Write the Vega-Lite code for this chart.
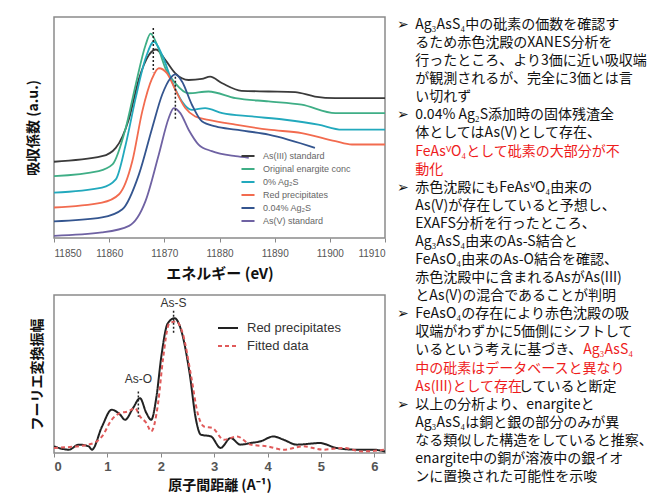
{
  "$schema": "https://vega.github.io/schema/vega-lite/v6.json",
  "background": "white",
  "padding": {"left": 25, "top": 16, "right": 0, "bottom": 0},
  "datasets": {
    "xanes": [
      {"sample": "As(III) standard", "E": 11850, "A": 34.5},
      {"sample": "As(III) standard", "E": 11858.7, "A": 37},
      {"sample": "As(III) standard", "E": 11861.2, "A": 40.8},
      {"sample": "As(III) standard", "E": 11863.6, "A": 54},
      {"sample": "As(III) standard", "E": 11865.4, "A": 72},
      {"sample": "As(III) standard", "E": 11867.2, "A": 82.8},
      {"sample": "As(III) standard", "E": 11868.5, "A": 85.3},
      {"sample": "As(III) standard", "E": 11870.2, "A": 80.5},
      {"sample": "As(III) standard", "E": 11872, "A": 74.5},
      {"sample": "As(III) standard", "E": 11874.4, "A": 71.5},
      {"sample": "As(III) standard", "E": 11876.8, "A": 72},
      {"sample": "As(III) standard", "E": 11878.3, "A": 73},
      {"sample": "As(III) standard", "E": 11880.5, "A": 70},
      {"sample": "As(III) standard", "E": 11884, "A": 66.6},
      {"sample": "As(III) standard", "E": 11888.9, "A": 66.3},
      {"sample": "As(III) standard", "E": 11893.7, "A": 66},
      {"sample": "As(III) standard", "E": 11897.3, "A": 64},
      {"sample": "As(III) standard", "E": 11901, "A": 63.3},
      {"sample": "As(III) standard", "E": 11910, "A": 63.3},
      {"sample": "Original enargite conc", "E": 11850, "A": 28},
      {"sample": "Original enargite conc", "E": 11858.1, "A": 30.3},
      {"sample": "Original enargite conc", "E": 11860.6, "A": 33.3},
      {"sample": "Original enargite conc", "E": 11863, "A": 49.8},
      {"sample": "Original enargite conc", "E": 11864.8, "A": 69.3},
      {"sample": "Original enargite conc", "E": 11866.6, "A": 87.3},
      {"sample": "Original enargite conc", "E": 11867.5, "A": 92.5},
      {"sample": "Original enargite conc", "E": 11868.7, "A": 87.3},
      {"sample": "Original enargite conc", "E": 11870.2, "A": 76.8},
      {"sample": "Original enargite conc", "E": 11872, "A": 70},
      {"sample": "Original enargite conc", "E": 11874.4, "A": 65.5},
      {"sample": "Original enargite conc", "E": 11878, "A": 66.3},
      {"sample": "Original enargite conc", "E": 11882.9, "A": 63.3},
      {"sample": "Original enargite conc", "E": 11888.9, "A": 61.8},
      {"sample": "Original enargite conc", "E": 11894.9, "A": 60.3},
      {"sample": "Original enargite conc", "E": 11901, "A": 56.5},
      {"sample": "Original enargite conc", "E": 11910, "A": 56.5},
      {"sample": "0% Ag₂S", "E": 11850, "A": 20.5},
      {"sample": "0% Ag₂S", "E": 11858.7, "A": 22.8},
      {"sample": "0% Ag₂S", "E": 11861.2, "A": 26.5},
      {"sample": "0% Ag₂S", "E": 11863, "A": 42.3},
      {"sample": "0% Ag₂S", "E": 11864.8, "A": 63.3},
      {"sample": "0% Ag₂S", "E": 11866.6, "A": 81.3},
      {"sample": "0% Ag₂S", "E": 11868.1, "A": 88.8},
      {"sample": "0% Ag₂S", "E": 11869.6, "A": 82.8},
      {"sample": "0% Ag₂S", "E": 11871.4, "A": 70.8},
      {"sample": "0% Ag₂S", "E": 11873.2, "A": 61.8},
      {"sample": "0% Ag₂S", "E": 11875, "A": 58},
      {"sample": "0% Ag₂S", "E": 11877.4, "A": 58.8},
      {"sample": "0% Ag₂S", "E": 11880.5, "A": 56.5},
      {"sample": "0% Ag₂S", "E": 11885.9, "A": 55},
      {"sample": "0% Ag₂S", "E": 11891.9, "A": 53.5},
      {"sample": "0% Ag₂S", "E": 11897.9, "A": 51.3},
      {"sample": "0% Ag₂S", "E": 11902.2, "A": 49},
      {"sample": "0% Ag₂S", "E": 11910, "A": 49},
      {"sample": "Red precipitates", "E": 11850, "A": 13.8},
      {"sample": "Red precipitates", "E": 11858.7, "A": 16},
      {"sample": "Red precipitates", "E": 11861.8, "A": 19.8},
      {"sample": "Red precipitates", "E": 11864.2, "A": 34.8},
      {"sample": "Red precipitates", "E": 11866, "A": 57.3},
      {"sample": "Red precipitates", "E": 11867.8, "A": 72.3},
      {"sample": "Red precipitates", "E": 11869, "A": 76.8},
      {"sample": "Red precipitates", "E": 11870.5, "A": 74.5},
      {"sample": "Red precipitates", "E": 11872, "A": 67},
      {"sample": "Red precipitates", "E": 11873.8, "A": 58.8},
      {"sample": "Red precipitates", "E": 11875.6, "A": 55},
      {"sample": "Red precipitates", "E": 11878, "A": 53.5},
      {"sample": "Red precipitates", "E": 11882.9, "A": 51.3},
      {"sample": "Red precipitates", "E": 11888.9, "A": 49},
      {"sample": "Red precipitates", "E": 11894.9, "A": 47.5},
      {"sample": "Red precipitates", "E": 11901, "A": 43.8},
      {"sample": "Red precipitates", "E": 11904, "A": 42.3},
      {"sample": "Red precipitates", "E": 11910, "A": 42.3},
      {"sample": "0.04% Ag₂S", "E": 11850, "A": 7.5},
      {"sample": "0.04% Ag₂S", "E": 11858.7, "A": 9.3},
      {"sample": "0.04% Ag₂S", "E": 11862.4, "A": 13},
      {"sample": "0.04% Ag₂S", "E": 11865.4, "A": 28.8},
      {"sample": "0.04% Ag₂S", "E": 11867.8, "A": 49.8},
      {"sample": "0.04% Ag₂S", "E": 11869.6, "A": 64.8},
      {"sample": "0.04% Ag₂S", "E": 11871.1, "A": 72.3},
      {"sample": "0.04% Ag₂S", "E": 11872, "A": 74},
      {"sample": "0.04% Ag₂S", "E": 11873.2, "A": 70.8},
      {"sample": "0.04% Ag₂S", "E": 11875, "A": 60.3},
      {"sample": "0.04% Ag₂S", "E": 11876.8, "A": 52.8},
      {"sample": "0.04% Ag₂S", "E": 11879.3, "A": 50.5},
      {"sample": "0.04% Ag₂S", "E": 11882.9, "A": 49},
      {"sample": "0.04% Ag₂S", "E": 11888.9, "A": 46.8},
      {"sample": "0.04% Ag₂S", "E": 11897.3, "A": 40.8},
      {"sample": "As(V) standard", "E": 11850, "A": 1},
      {"sample": "As(V) standard", "E": 11858.7, "A": 2.5},
      {"sample": "As(V) standard", "E": 11863.6, "A": 5.5},
      {"sample": "As(V) standard", "E": 11866.6, "A": 16.8},
      {"sample": "As(V) standard", "E": 11869, "A": 37.8},
      {"sample": "As(V) standard", "E": 11870.8, "A": 54.3},
      {"sample": "As(V) standard", "E": 11871.7, "A": 58.8},
      {"sample": "As(V) standard", "E": 11872.9, "A": 56.5},
      {"sample": "As(V) standard", "E": 11874.4, "A": 49},
      {"sample": "As(V) standard", "E": 11876.2, "A": 42.3},
      {"sample": "As(V) standard", "E": 11878.6, "A": 39.3},
      {"sample": "As(V) standard", "E": 11882.9, "A": 37},
      {"sample": "As(V) standard", "E": 11885.3, "A": 36.3}
    ],
    "xanesPeaks": [
      {"E": 11868, "y1": 95, "y2": 75},
      {"E": 11872, "y1": 73, "y2": 53}
    ],
    "exafs": [
      {"series": "Red precipitates", "R": 0, "F": 4.2},
      {"series": "Red precipitates", "R": 0.28, "F": 2.1},
      {"series": "Red precipitates", "R": 0.46, "F": 5.3},
      {"series": "Red precipitates", "R": 0.65, "F": 4.2},
      {"series": "Red precipitates", "R": 0.71, "F": 2.1},
      {"series": "Red precipitates", "R": 0.9, "F": 16.8},
      {"series": "Red precipitates", "R": 1.08, "F": 27.4},
      {"series": "Red precipitates", "R": 1.24, "F": 24.2},
      {"series": "Red precipitates", "R": 1.33, "F": 21},
      {"series": "Red precipitates", "R": 1.48, "F": 28.4},
      {"series": "Red precipitates", "R": 1.61, "F": 34.7},
      {"series": "Red precipitates", "R": 1.73, "F": 25.3},
      {"series": "Red precipitates", "R": 1.82, "F": 21},
      {"series": "Red precipitates", "R": 1.92, "F": 35.8},
      {"series": "Red precipitates", "R": 2.01, "F": 61},
      {"series": "Red precipitates", "R": 2.13, "F": 82},
      {"series": "Red precipitates", "R": 2.26, "F": 85.3},
      {"series": "Red precipitates", "R": 2.38, "F": 77.9},
      {"series": "Red precipitates", "R": 2.54, "F": 50.5},
      {"series": "Red precipitates", "R": 2.66, "F": 21},
      {"series": "Red precipitates", "R": 2.75, "F": 11.6},
      {"series": "Red precipitates", "R": 2.94, "F": 10.5},
      {"series": "Red precipitates", "R": 3.12, "F": 3.2},
      {"series": "Red precipitates", "R": 3.31, "F": 9.5},
      {"series": "Red precipitates", "R": 3.49, "F": 5.3},
      {"series": "Red precipitates", "R": 3.68, "F": 6.3},
      {"series": "Red precipitates", "R": 3.87, "F": 7.4},
      {"series": "Red precipitates", "R": 4.11, "F": 10.5},
      {"series": "Red precipitates", "R": 4.3, "F": 8.4},
      {"series": "Red precipitates", "R": 4.55, "F": 5.3},
      {"series": "Red precipitates", "R": 4.98, "F": 6.3},
      {"series": "Red precipitates", "R": 5.29, "F": 3.2},
      {"series": "Red precipitates", "R": 5.66, "F": 2.1},
      {"series": "Red precipitates", "R": 5.97, "F": 2.1},
      {"series": "Red precipitates", "R": 6.2, "F": 1},
      {"series": "Fitted data", "R": 0, "F": 3.2},
      {"series": "Fitted data", "R": 0.65, "F": 5.3},
      {"series": "Fitted data", "R": 0.9, "F": 10.5},
      {"series": "Fitted data", "R": 1.08, "F": 21},
      {"series": "Fitted data", "R": 1.24, "F": 25.3},
      {"series": "Fitted data", "R": 1.39, "F": 26.3},
      {"series": "Fitted data", "R": 1.52, "F": 28.4},
      {"series": "Fitted data", "R": 1.61, "F": 23.2},
      {"series": "Fitted data", "R": 1.73, "F": 19},
      {"series": "Fitted data", "R": 1.82, "F": 13.7},
      {"series": "Fitted data", "R": 1.95, "F": 31.6},
      {"series": "Fitted data", "R": 2.04, "F": 59},
      {"series": "Fitted data", "R": 2.16, "F": 82},
      {"series": "Fitted data", "R": 2.29, "F": 83.2},
      {"series": "Fitted data", "R": 2.41, "F": 75.8},
      {"series": "Fitted data", "R": 2.57, "F": 48.4},
      {"series": "Fitted data", "R": 2.69, "F": 25.3},
      {"series": "Fitted data", "R": 2.81, "F": 16.8},
      {"series": "Fitted data", "R": 2.97, "F": 15.8},
      {"series": "Fitted data", "R": 3.18, "F": 8.4},
      {"series": "Fitted data", "R": 3.43, "F": 10.5},
      {"series": "Fitted data", "R": 3.68, "F": 5.3},
      {"series": "Fitted data", "R": 3.99, "F": 4.2},
      {"series": "Fitted data", "R": 4.3, "F": 2.1},
      {"series": "Fitted data", "R": 4.67, "F": 4.2},
      {"series": "Fitted data", "R": 5.04, "F": 2.1},
      {"series": "Fitted data", "R": 5.41, "F": 3.2},
      {"series": "Fitted data", "R": 5.78, "F": 1},
      {"series": "Fitted data", "R": 6.2, "F": 2.1}
    ],
    "exafsLabels": [
      {"label": "As-S", "R": 2.24, "F": 95, "y1": 90, "y2": 75},
      {"label": "As-O", "R": 1.58, "F": 47, "y1": 39, "y2": 23}
    ],
    "notes": [
      {"line": 1, "col": -1.3, "text": "➢", "hl": "n"},
      {"line": 1, "col": 0, "text": "Ag₃AsS₄中の砒素の価数を確認す", "hl": "n"},
      {"line": 2, "col": 0, "text": "るため赤色沈殿のXANES分析を", "hl": "n"},
      {"line": 3, "col": 0, "text": "行ったところ、より3価に近い吸収端", "hl": "n"},
      {"line": 4, "col": 0, "text": "が観測されるが、完全に3価とは言", "hl": "n"},
      {"line": 5, "col": 0, "text": "い切れず", "hl": "n"},
      {"line": 6, "col": -1.3, "text": "➢", "hl": "n"},
      {"line": 6, "col": 0, "text": "0.04% Ag₂S添加時の固体残渣全", "hl": "n"},
      {"line": 7, "col": 0, "text": "体としてはAs(V)として存在、", "hl": "n"},
      {"line": 8, "col": 0, "text": "FeAsⱽO₄として砒素の大部分が不", "hl": "r"},
      {"line": 9, "col": 0, "text": "動化", "hl": "r"},
      {"line": 10, "col": -1.3, "text": "➢", "hl": "n"},
      {"line": 10, "col": 0, "text": "赤色沈殿にもFeAsⱽO₄由来の", "hl": "n"},
      {"line": 11, "col": 0, "text": "As(V)が存在していると予想し、", "hl": "n"},
      {"line": 12, "col": 0, "text": "EXAFS分析を行ったところ、", "hl": "n"},
      {"line": 13, "col": 0, "text": "Ag₃AsS₄由来のAs-S結合と", "hl": "n"},
      {"line": 14, "col": 0, "text": "FeAsO₄由来のAs-O結合を確認、", "hl": "n"},
      {"line": 15, "col": 0, "text": "赤色沈殿中に含まれるAsがAs(III)", "hl": "n"},
      {"line": 16, "col": 0, "text": "とAs(V)の混合であることが判明", "hl": "n"},
      {"line": 17, "col": -1.3, "text": "➢", "hl": "n"},
      {"line": 17, "col": 0, "text": "FeAsO₄の存在により赤色沈殿の吸", "hl": "n"},
      {"line": 18, "col": 0, "text": "収端がわずかに5価側にシフトして", "hl": "n"},
      {"line": 19, "col": 0, "text": "いるという考えに基づき、", "hl": "n"},
      {"line": 19, "col": 12, "text": "Ag₃AsS₄", "hl": "r"},
      {"line": 20, "col": 0, "text": "中の砒素はデータベースと異なり", "hl": "r"},
      {"line": 21, "col": 0, "text": "As(III)として存在", "hl": "r"},
      {"line": 21, "col": 7.4, "text": "していると断定", "hl": "n"},
      {"line": 22, "col": -1.3, "text": "➢", "hl": "n"},
      {"line": 22, "col": 0, "text": "以上の分析より、enargiteと", "hl": "n"},
      {"line": 23, "col": 0, "text": "Ag₃AsS₄は銅と銀の部分のみが異", "hl": "n"},
      {"line": 24, "col": 0, "text": "なる類似した構造をしていると推察、", "hl": "n"},
      {"line": 25, "col": 0, "text": "enargite中の銅が溶液中の銀イオ", "hl": "n"},
      {"line": 26, "col": 0, "text": "ンに置換された可能性を示唆", "hl": "n"}
    ]
  },
  "resolve": {"scale": {"color": "independent", "strokeDash": "independent"}, "legend": {"color": "independent", "strokeDash": "independent"}},
  "hconcat": [
    {
      "spacing": 12,
      "resolve": {"scale": {"color": "independent", "strokeDash": "independent"}, "legend": {"color": "independent", "strokeDash": "independent"}},
      "vconcat": [
        {
          "width": 331,
          "height": 221,
          "layer": [
            {
              "data": {"name": "xanes"},
              "mark": {"type": "line", "strokeWidth": 1.8, "interpolate": "monotone"},
              "encoding": {
                "x": {
                  "field": "E", "type": "quantitative",
                  "scale": {"domain": [11850, 11910], "nice": false, "zero": false},
                  "axis": {
                    "values": [11850, 11860, 11870, 11880, 11890, 11900, 11910],
                    "format": "d", "grid": false, "domain": false,
                    "labelFontSize": 10, "labelColor": "#555", "labelPadding": 6,
                    "tickSize": 4, "tickColor": "#888",
                    "title": "エネルギー (eV)", "titleFont": "Noto Sans CJK JP",
                    "titleFontSize": 15, "titleFontWeight": "bold", "titleColor": "#111", "titlePadding": 8
                  }
                },
                "y": {
                  "field": "A", "type": "quantitative",
                  "scale": {"domain": [0, 100], "nice": false},
                  "axis": {
                    "labels": false, "ticks": false, "domain": false, "grid": false,
                    "title": "吸収係数 (a.u.)", "titleFont": "Noto Sans CJK JP",
                    "titleFontSize": 14, "titleFontWeight": "bold", "titleColor": "#111", "titlePadding": 14
                  }
                },
                "color": {
                  "field": "sample", "type": "nominal",
                  "scale": {
                    "domain": ["As(III) standard", "Original enargite conc", "0% Ag₂S", "Red precipitates", "0.04% Ag₂S", "As(V) standard"],
                    "range": ["#3a3a3a", "#3fae86", "#22a9bd", "#f26b4f", "#34558f", "#6f62a3"]
                  },
                  "legend": {
                    "orient": "none", "legendX": 186, "legendY": 131,
                    "title": null, "symbolType": "stroke", "symbolSize": 170,
                    "symbolStrokeWidth": 2, "labelFontSize": 9, "labelColor": "#666",
                    "rowPadding": 0, "labelOffset": 7
                  }
                }
              }
            },
            {
              "data": {"name": "xanesPeaks"},
              "mark": {"type": "rule", "strokeDash": [2, 2], "color": "#222", "strokeWidth": 1.5},
              "encoding": {
                "x": {"field": "E", "type": "quantitative"},
                "y": {"field": "y1", "type": "quantitative"},
                "y2": {"field": "y2"}
              }
            }
          ]
        },
        {
          "width": 331,
          "height": 158,
          "layer": [
            {
              "data": {"name": "exafs"},
              "mark": {"type": "line", "strokeWidth": 2, "interpolate": "monotone", "clip": true},
              "encoding": {
                "x": {
                  "field": "R", "type": "quantitative",
                  "scale": {"domain": [0, 6.2], "nice": false},
                  "axis": {
                    "values": [0, 1, 2, 3, 4, 5, 6], "format": "d", "grid": false, "domain": false,
                    "labelFontSize": 13, "labelFontWeight": "bold", "labelColor": "#555", "labelPadding": 3,
                    "tickSize": 4, "tickColor": "#888",
                    "title": "原子間距離 (A⁻¹)", "titleFont": "Noto Sans CJK JP",
                    "titleFontSize": 14, "titleFontWeight": "bold", "titleColor": "#111", "titlePadding": 5
                  }
                },
                "y": {
                  "field": "F", "type": "quantitative",
                  "scale": {"domain": [0, 100], "nice": false},
                  "axis": {
                    "labels": false, "ticks": false, "domain": false, "grid": false,
                    "title": "フーリエ変換振幅", "titleFont": "Noto Sans CJK JP",
                    "titleFontSize": 14, "titleFontWeight": "bold", "titleColor": "#111", "titlePadding": 10
                  }
                },
                "color": {
                  "field": "series", "type": "nominal",
                  "scale": {"domain": ["Red precipitates", "Fitted data"], "range": ["#222222", "#e05a5a"]},
                  "legend": {
                    "orient": "none", "legendX": 163, "legendY": 22,
                    "title": null, "symbolType": "stroke", "symbolSize": 400,
                    "symbolStrokeWidth": 2, "labelFontSize": 13, "labelColor": "#333",
                    "rowPadding": -6, "labelOffset": 8
                  }
                },
                "strokeDash": {
                  "field": "series", "type": "nominal",
                  "scale": {"domain": ["Red precipitates", "Fitted data"], "range": [[1, 0], [4, 3]]},
                  "legend": {
                    "orient": "none", "legendX": 163, "legendY": 22,
                    "title": null, "symbolType": "stroke", "symbolSize": 400,
                    "symbolStrokeWidth": 2, "labelFontSize": 13, "labelColor": "#333",
                    "rowPadding": -6, "labelOffset": 8
                  }
                }
              }
            },
            {
              "data": {"name": "exafsLabels"},
              "mark": {"type": "rule", "strokeDash": [2, 2], "color": "#222", "strokeWidth": 1.5},
              "encoding": {
                "x": {"field": "R", "type": "quantitative"},
                "y": {"field": "y1", "type": "quantitative"},
                "y2": {"field": "y2"}
              }
            },
            {
              "data": {"name": "exafsLabels"},
              "mark": {"type": "text", "fontSize": 12, "color": "#333", "baseline": "middle"},
              "encoding": {
                "x": {"field": "R", "type": "quantitative"},
                "y": {"field": "F", "type": "quantitative"},
                "text": {"field": "label"}
              }
            }
          ]
        }
      ]
    },
    {
      "width": 252,
      "height": 470,
      "view": {"stroke": null},
      "data": {"name": "notes"},
      "mark": {"type": "text", "align": "left", "baseline": "middle", "font": "Noto Sans CJK JP", "fontSize": 14},
      "encoding": {
        "x": {"field": "col", "type": "quantitative", "scale": {"domain": [-1.3, 16.7], "nice": false, "zero": false}, "axis": null},
        "y": {"field": "line", "type": "quantitative", "scale": {"domain": [1, 26], "range": [8, 460]}, "axis": null},
        "text": {"field": "text"},
        "color": {"field": "hl", "type": "nominal", "scale": {"domain": ["n", "r"], "range": ["#111111", "#ee1c1c"]}, "legend": null}
      }
    }
  ],
  "spacing": 7,
  "config": {
    "font": "Liberation Sans",
    "view": {"stroke": "#8a8a8a", "strokeWidth": 1.5}
  }
}
